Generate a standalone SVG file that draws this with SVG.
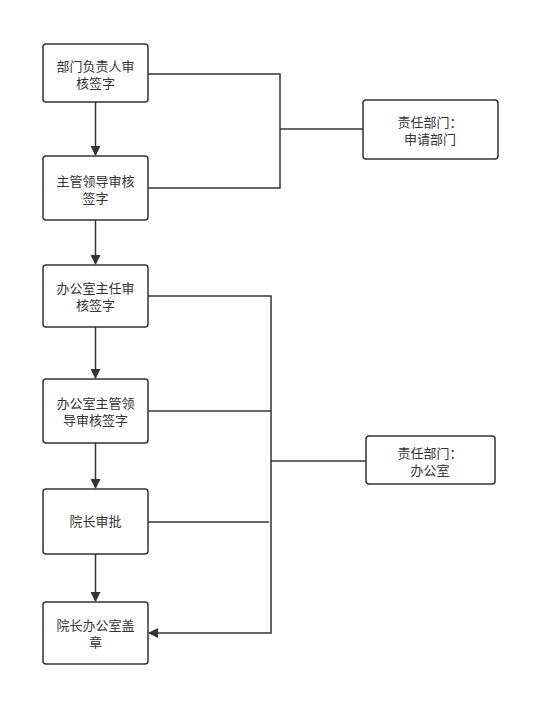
<svg xmlns="http://www.w3.org/2000/svg" width="554" height="722" viewBox="0 0 554 722">
<style>
.box{fill:#fff;stroke:#333;stroke-width:1.5}
.t{font-family:"Liberation Sans","Noto Sans CJK SC",sans-serif;font-size:13px;fill:#333;text-anchor:middle}
.c{fill:none;stroke:#333;stroke-width:1.5}
</style>
<defs>
<marker id="a" markerWidth="10" markerHeight="10" refX="9" refY="5" orient="auto" markerUnits="userSpaceOnUse">
<path d="M0,0 L10,5 L0,10 Z" fill="#333"/>
</marker>
</defs>
<rect width="554" height="722" fill="#fff"/>
<g id="connectors">
<path class="c" d="M95.5,102 V155" marker-end="url(#a)"/>
<path class="c" d="M95.5,220 V264" marker-end="url(#a)"/>
<path class="c" d="M95.5,327 V378" marker-end="url(#a)"/>
<path class="c" d="M95.5,443 V488" marker-end="url(#a)"/>
<path class="c" d="M95.5,554 V601" marker-end="url(#a)"/>
<path class="c" d="M148,74 H280 V188 H148"/>
<path class="c" d="M280,129 H363"/>
<path class="c" d="M148,296 H271 V633 H149" marker-end="url(#a)"/>
<path class="c" d="M148,411 H271"/>
<path class="c" d="M148,522 H269"/>
<path class="c" d="M271,461 H366"/>
</g>
<g id="n1"><rect class="box" x="43" y="44" width="105" height="58" rx="3"/><text class="t" x="95.5" y="71">部门负责人审</text><text class="t" x="95.5" y="88">核签字</text></g>
<g id="n2"><rect class="box" x="43" y="156" width="105" height="64" rx="3"/><text class="t" x="95.5" y="186">主管领导审核</text><text class="t" x="95.5" y="203">签字</text></g>
<g id="n3"><rect class="box" x="43" y="265" width="105" height="62" rx="3"/><text class="t" x="95.5" y="293">办公室主任审</text><text class="t" x="95.5" y="310">核签字</text></g>
<g id="n4"><rect class="box" x="43" y="379" width="105" height="64" rx="3"/><text class="t" x="95.5" y="408">办公室主管领</text><text class="t" x="95.5" y="425">导审核签字</text></g>
<g id="n5"><rect class="box" x="43" y="489" width="105" height="65" rx="3"/><text class="t" x="95.5" y="526">院长审批</text></g>
<g id="n6"><rect class="box" x="43" y="602" width="105" height="62" rx="3"/><text class="t" x="95.5" y="630">院长办公室盖</text><text class="t" x="95.5" y="647">章</text></g>
<g id="r1"><rect class="box" x="363" y="100" width="135" height="59" rx="3"/><text class="t" x="430" y="127">责任部门：</text><text class="t" x="430" y="144">申请部门</text></g>
<g id="r2"><rect class="box" x="366" y="436" width="129" height="48" rx="3"/><text class="t" x="430" y="458">责任部门：</text><text class="t" x="430" y="475">办公室</text></g>
</svg>
